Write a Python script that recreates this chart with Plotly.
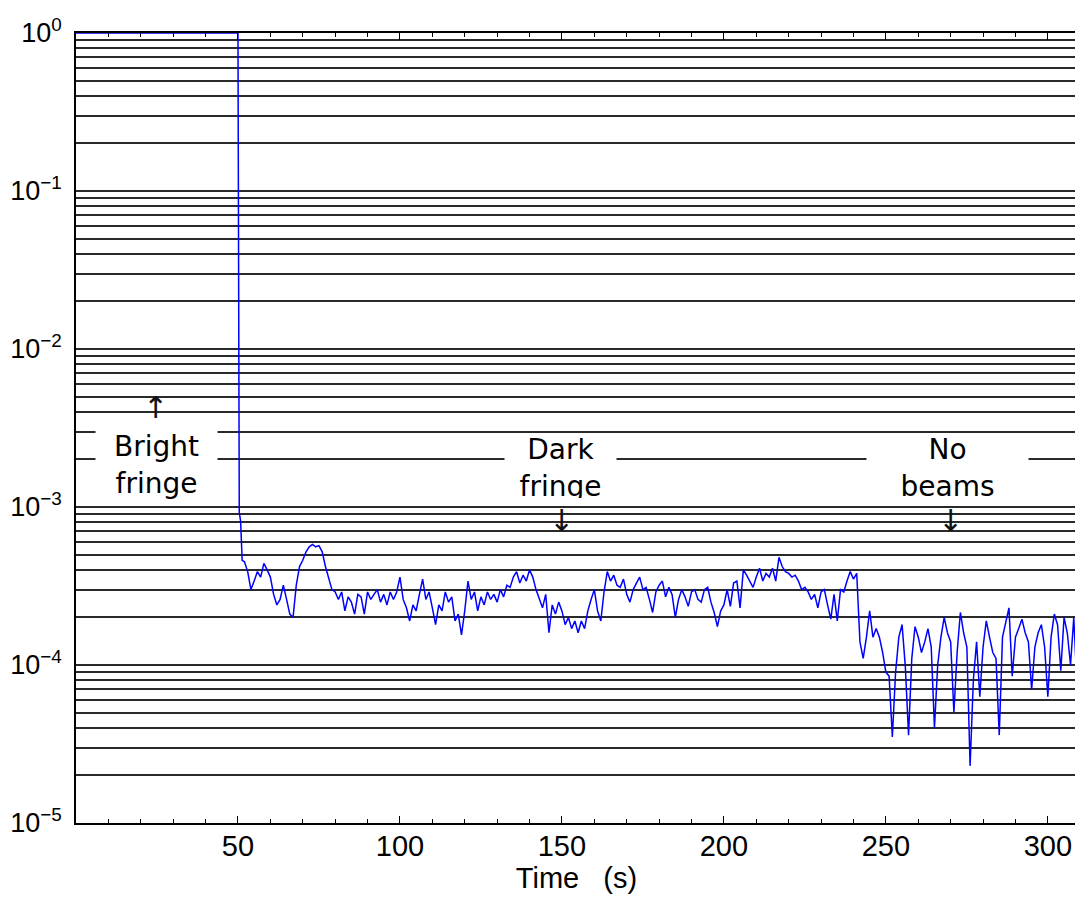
import plotly.graph_objects as go

# ─── data ─────────────────────────────────────────────────────────────────────
# bright fringe, then the drop (normalised intensity)
HEAD_TIME = [0, 50, 50.4, 50.8, 51.3]
HEAD_VALUE = [1.0, 1.0, 9.2e-4, 8.2e-4, 4.6e-4]

# after the drop: one sample per second from t = 52 s, in units of 1e-4
TAIL_START = 52
TAIL_UNIT = 1e-4
TAIL_VALUE = [
    # 52 - 80
    4.5, 3.9, 3.0, 3.4, 3.9, 3.6, 4.4, 4.0, 3.6, 2.8,
    2.4, 2.6, 3.2, 2.6, 2.1, 2.0, 3.2, 4.2, 4.6, 5.2,
    5.6, 5.8, 5.6, 5.7, 5.2, 4.2, 3.6, 3.0, 2.9,
    # 81 - 120
    2.6, 2.9, 2.2, 2.7, 2.5, 2.1, 2.8, 2.7, 2.1, 2.9,
    2.6, 2.8, 3.0, 2.5, 2.8, 2.4, 2.9, 2.6, 2.9, 3.6,
    2.6, 2.3, 1.9, 2.4, 2.2, 2.8, 3.5, 2.6, 2.9, 2.3,
    1.8, 2.4, 2.2, 2.9, 2.5, 2.7, 1.9, 2.1, 1.55, 2.2,
    # 121 - 160
    3.4, 2.6, 2.9, 2.2, 2.7, 2.4, 2.9, 2.6, 2.8, 2.5,
    3.0, 2.7, 3.2, 3.1, 3.6, 3.9, 3.3, 3.7, 3.4, 4.0,
    3.6, 3.0, 2.6, 2.3, 2.8, 1.6, 2.4, 2.1, 2.5, 2.2,
    1.8, 2.0, 1.7, 1.9, 1.6, 1.9, 1.7, 2.2, 2.6, 3.0,
    # 161 - 200
    2.2, 1.9, 2.9, 3.9, 3.4, 3.7, 3.2, 3.1, 3.5, 2.8,
    2.5, 3.0, 3.3, 3.6, 3.0, 3.1, 2.6, 2.15, 2.9, 3.2,
    3.4, 2.7, 3.1, 2.8, 2.0, 2.6, 3.0, 2.7, 2.35, 2.9,
    3.0, 2.6, 2.5, 3.0, 3.1, 2.5, 2.15, 1.75, 2.2, 2.4,
    # 201 - 241
    3.0, 2.35, 3.3, 3.4, 2.3, 4.0, 3.7, 3.4, 3.1, 3.6,
    4.1, 3.4, 3.8, 3.6, 4.1, 3.4, 4.8, 4.2, 3.9, 3.8,
    3.6, 3.7, 3.4, 3.0, 3.1, 2.9, 2.6, 2.8, 2.3, 2.9,
    3.0, 2.4, 1.95, 2.8, 1.9, 3.0, 2.9, 3.4, 3.9, 3.5,
    3.8,
    # 242 - 250 (beams off)
    1.4, 1.1, 1.5, 2.2, 1.5, 1.7, 1.5, 1.2, 0.9,
    # 251 - 309
    0.85, 0.35, 0.9, 1.5, 1.8, 0.98, 0.36, 1.1, 1.75, 1.5,
    1.2, 1.4, 1.7, 1.3, 0.4, 1.0, 1.5, 2.0, 1.6, 1.4,
    0.5, 1.2, 2.15, 1.6, 1.3, 0.23, 0.8, 1.4, 0.63, 1.3,
    1.9, 1.5, 1.2, 1.1, 0.36, 1.5, 1.9, 2.3, 0.85, 1.5,
    1.7, 1.95, 1.6, 1.4, 0.7, 1.3, 1.6, 1.8, 1.3, 0.63,
    1.5, 2.1, 1.8, 0.92, 2.0, 1.6, 1.0, 2.0, 0.75,
]

X_TICKS = [50, 100, 150, 200, 250, 300]
Y_TICKS = [1e-5, 1e-4, 1e-3, 1e-2, 1e-1, 1e0]
Y_TICK_TEXT = ["10<sup>−5</sup>", "10<sup>−4</sup>", "10<sup>−3</sup>",
               "10<sup>−2</sup>", "10<sup>−1</sup>", "10<sup>0</sup>"]

# labels: (text, time, log10 of value, box width, box height)
LABELS = [
    ("Bright<br>fringe", 25, -2.735, 121, 74),
    ("Dark<br>fringe", 149.5, -2.75, 111, 60),
    ("No<br>beams", 269, -2.75, 161, 60),
]
# arrows: (glyph, time, log10 of value)
ARROWS = [
    ("↑", 24.5, -2.37),
    ("↓", 149.8, -3.085),
    ("↓", 269.8, -3.085),
]

# ─── figure ───────────────────────────────────────────────────────────────────
time_s = HEAD_TIME + [TAIL_START + i for i in range(len(TAIL_VALUE))]
signal = HEAD_VALUE + [v * TAIL_UNIT for v in TAIL_VALUE]

fig = go.Figure()
fig.add_trace(go.Scatter(
    x=time_s, y=signal,
    mode="lines",
    line=dict(color="#0000ff", width=1.5),
    showlegend=False,
))

for text, t, ly, w, h in LABELS:
    fig.add_annotation(
        x=t, y=ly, xref="x", yref="y",
        text=text, showarrow=False,
        font=dict(family="DejaVu Sans", size=28, color="black"),
        bgcolor="white", width=w, height=h, borderpad=0,
        align="center", valign="middle",
    )

for glyph, t, ly in ARROWS:
    fig.add_annotation(
        x=t, y=ly, xref="x", yref="y",
        text=glyph, showarrow=False,
        font=dict(family="DejaVu Sans", size=30, color="#111111"),
    )

GRID = "#2a2a2a"
# page body has an 8 px margin, so the figure is 8 px smaller each way
fig.update_layout(
    width=1075, height=894,
    margin=dict(l=68, r=6, t=25, b=79),
    paper_bgcolor="white",
    plot_bgcolor="white",
    font=dict(family="Liberation Sans", size=29, color="black"),
)
fig.update_xaxes(
    range=[0, 309],
    tickvals=X_TICKS,
    ticks="inside", ticklen=7, tickcolor="black", tickwidth=1,
    minor=dict(dtick=10, tick0=0, ticks="inside", ticklen=4, tickcolor="black"),
    showgrid=False, zeroline=False, automargin=False,
    showline=True, linecolor="black", linewidth=1.5, mirror="ticks",
    ticklabelstandoff=-4,
    title=dict(text="Time\u00a0\u00a0\u00a0(s)", standoff=0,
               font=dict(family="Liberation Sans", size=29)),
)
fig.update_yaxes(
    type="log", range=[-5, 0],
    tickvals=Y_TICKS, ticktext=Y_TICK_TEXT,
    tickfont=dict(family="Liberation Sans", size=27),
    ticks="", ticklabelstandoff=7, automargin=False,
    showgrid=True, gridcolor=GRID, gridwidth=1.5,
    minor=dict(dtick="D1", showgrid=True, gridcolor=GRID, gridwidth=1.5),
    zeroline=False,
    showline=True, linecolor="black", linewidth=1.5, mirror=True,
)

fig.write_html("out.html")
